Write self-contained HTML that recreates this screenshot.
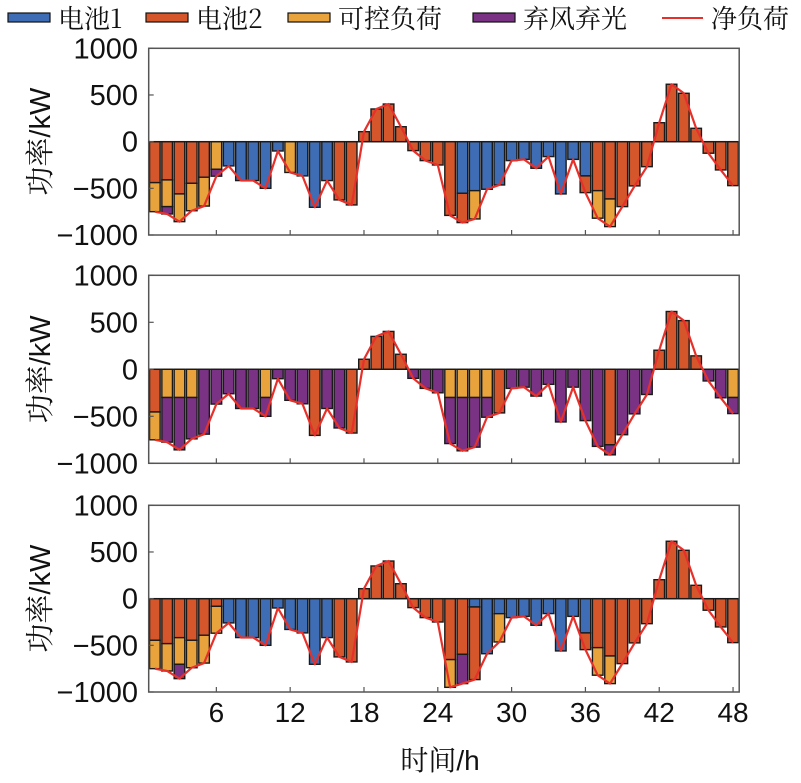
<!DOCTYPE html>
<html><head><meta charset="utf-8"><style>
body{margin:0;background:#fff;}
svg text{font-family:"Liberation Sans","Noto Serif CJK SC",sans-serif;fill:#111;}
.cn{font-family:"Noto Serif CJK SC","Noto Sans CJK SC",serif;}
</style></head><body>
<svg id="chart" width="801" height="778" viewBox="0 0 801 778" xmlns="http://www.w3.org/2000/svg">
<g>
 <rect x="8" y="13" width="42" height="9" fill="#3f6db5" stroke="#111" stroke-width="1.2"/>
 <text x="58" y="28" font-size="26" class="cn">电池1</text>
 <rect x="146" y="13" width="42" height="9" fill="#d5562a" stroke="#111" stroke-width="1.2"/>
 <text x="196" y="28" font-size="26" class="cn">电池2</text>
 <rect x="288" y="13" width="42" height="9" fill="#e8a33c" stroke="#111" stroke-width="1.2"/>
 <text x="338" y="28" font-size="26" class="cn">可控负荷</text>
 <rect x="473" y="13" width="42" height="9" fill="#7a3384" stroke="#111" stroke-width="1.2"/>
 <text x="523" y="28" font-size="26" class="cn">弃风弃光</text>
 <line x1="662" y1="18" x2="703" y2="18" stroke="#e8302a" stroke-width="2"/>
 <text x="711" y="28" font-size="26" class="cn">净负荷</text>
</g>
<g id="panels"></g>
<text x="440" y="770" font-size="28" text-anchor="middle"><tspan class="cn">时间</tspan>/h</text>
</svg>
<script>
const hours = Array.from({length:48},(_, i)=>i+1);
const yTicks = [1000,500,0,-500,-1000];
const yTickLabels = ["1000","500","0","\u2212500","\u22121000"];
const xTicks = [6,12,18,24,30,36,42,48];

const net1 = [-750,-775,-857,-740,-690,-370,-260,-417,-417,-500,-100,-330,-367,-703,-417,-624,-678,107,350,403,160,-96,-203,-250,-790,-867,-828,-510,-464,-203,-190,-285,-160,-560,-190,-546,-820,-910,-696,-474,-268,203,615,518,143,-124,-303,-471];
const p1b1 = [0,0,0,0,0,0,-260,-417,-417,-500,-100,0,-367,-703,-417,0,0,0,0,0,0,0,0,0,0,-553,-525,-510,-464,-203,-190,-285,-160,-560,-190,-367,0,0,0,0,0,0,0,0,0,0,0,0];
const p1b2 = [-439,-410,-560,-446,-381,0,0,0,0,0,0,0,0,0,0,-624,-678,107,350,403,160,-96,-203,-250,-790,-314,0,0,0,0,0,0,0,0,0,-179,-525,-614,-696,-474,-268,203,615,518,143,-124,-303,-471];
const p1cl = [-311,-286,-297,-294,-309,-296,0,0,0,0,0,-330,0,0,0,0,0,0,0,0,0,0,0,0,0,0,-303,0,0,0,0,0,0,0,0,0,-295,-296,0,0,0,0,0,0,0,0,0,0];
const p1cur = [0,-79,0,0,0,-74,0,0,0,0,0,0,0,0,0,0,0,0,0,0,0,0,0,0,0,0,0,0,0,0,0,0,0,0,0,0,0,0,0,0,0,0,0,0,0,0,0,0];

const net2 = net1.slice();
const p2b1 = new Array(48).fill(0);
const p2b2 = [-454,0,0,0,0,0,0,0,0,0,0,0,0,-703,0,0,-678,107,350,403,160,0,0,0,0,0,0,0,-464,0,0,0,0,0,0,0,0,-803,0,0,0,203,615,518,143,0,0,0];
const p2cl = [-296,-300,-300,-300,0,0,0,0,0,-300,0,0,0,0,0,0,0,0,0,0,0,0,0,0,-300,-300,-300,-300,0,0,0,0,0,0,0,0,0,0,0,0,0,0,0,0,0,0,0,-300];
const p2cur = [0,-475,-557,-440,-690,-370,-260,-417,-417,-200,-100,-330,-367,0,-417,-624,0,0,0,0,0,-96,-203,-250,-490,-567,-528,-210,0,-203,-190,-285,-160,-560,-190,-546,-820,-107,-696,-474,-268,0,0,0,0,-124,-303,-171];

const net3 = [-750,-775,-857,-740,-690,-370,-260,-417,-417,-500,-100,-330,-367,-703,-417,-624,-678,107,350,403,160,-96,-203,-250,-950,-910,-867,-590,-464,-203,-190,-285,-160,-560,-190,-546,-820,-910,-696,-474,-268,203,615,518,143,-124,-303,-471];
const p3b1 = [0,0,0,0,0,0,-260,-417,-417,-500,-100,-330,-367,-703,-417,0,0,0,0,0,0,0,0,0,0,0,-89,-590,-161,-203,-190,-285,-160,-560,-190,-367,0,0,0,0,0,0,0,0,0,0,0,0];
const p3b2 = [-446,-482,-418,-446,-392,-82,0,0,0,0,0,0,0,0,0,-624,-678,107,350,403,160,-96,-203,-250,-653,-596,-778,0,0,0,0,0,0,0,0,-179,-525,-614,-696,-474,-268,203,615,518,143,-124,-303,-471];
const p3cl = [-304,-293,-285,-294,-298,-288,0,0,0,0,0,0,0,0,0,0,0,0,0,0,0,0,0,0,-297,0,0,0,-303,0,0,0,0,0,0,0,-295,-296,0,0,0,0,0,0,0,0,0,0];
const p3cur = [0,0,-154,0,0,0,0,0,0,0,0,0,0,0,0,0,0,0,0,0,0,0,0,0,0,-314,0,0,0,0,0,0,0,0,0,0,0,0,0,0,0,0,0,0,0,0,0,0];

const NS="http://www.w3.org/2000/svg";
const colors=["#3f6db5","#d5562a","#e8a33c","#7a3384"];
const seriesNames=["battery1","battery2","controllable-load","curtailment"];
const X0=148.7, X1=739.2;
function xScale(h){return X0+(h-0.5)/48*(X1-X0);}
function mk(tag,attrs,parent){const e=document.createElementNS(NS,tag);for(const k in attrs)e.setAttribute(k,attrs[k]);parent.appendChild(e);return e;}
const root=document.getElementById('panels');
const panels=[
 {top:48.3,bot:235,series:[p1b1,p1b2,p1cl,p1cur],net:net1,xl:false},
 {top:275.3,bot:463.3,series:[p2b1,p2b2,p2cl,p2cur],net:net2,xl:false},
 {top:505.3,bot:692,series:[p3b1,p3b2,p3cl,p3cur],net:net3,xl:true}
];
panels.forEach((p,pi)=>{
 const yScale=v=>p.top+(1000-v)/2000*(p.bot-p.top);
 const g=mk('g',{},root);
 
 
 hours.forEach((h,i)=>{
  let neg=0,pos=0;
  p.series.forEach((s,si)=>{
   const v=s[i]; if(!v) return;
   let a,b;
   if(v<0){a=neg;b=neg+v;neg=b;}else{a=pos;b=pos+v;pos=b;}
   const y1=yScale(Math.max(a,b)),y2=yScale(Math.min(a,b));
   const r=mk('rect',{x:xScale(h)-5.3,y:y1,width:10.6,height:Math.max(0.5,y2-y1),fill:colors[si],stroke:'#1a1a1a','stroke-width':1.4},g);
   
   
  });
 });
 const z=mk('line',{x1:X0,x2:X1,y1:yScale(0),y2:yScale(0),stroke:'#1a1a1a','stroke-width':1.4},g);
 
 
 const pts=hours.map((h,i)=>xScale(h)+','+yScale(p.net[i])).join(' ');
 const pl=mk('polyline',{points:pts,fill:'none',stroke:'#e8302a','stroke-width':2.2,'stroke-linejoin':'round'},g);
 
 
 const fr=mk('rect',{x:X0,y:p.top,width:X1-X0,height:p.bot-p.top,fill:'none',stroke:'#555','stroke-width':1.5},g);
 
 
 yTicks.forEach((t,ti)=>{
  const y=yScale(t);
  const tk=mk('line',{x1:X0,x2:X0+5,y1:y,y2:y,stroke:'#555','stroke-width':1.2},g);
  
  
  const tx=mk('text',{x:138,y:y+10,'font-size':29,'text-anchor':'end'},g);
  tx.textContent=yTickLabels[ti];
  
  
 });
 xTicks.forEach(t=>{
  const x=xScale(t);
  const tk=mk('line',{x1:x,x2:x,y1:p.bot,y2:p.bot-5,stroke:'#555','stroke-width':1.2},g);
  
  
  if(p.xl){
   const tx=mk('text',{x:x,y:p.bot+30,'font-size':28,'text-anchor':'middle'},g);
   tx.textContent=String(t);
   
   
  }
 });
 const cy=(p.top+p.bot)/2;
 const yt=mk('text',{x:0,y:0,'font-size':29,'text-anchor':'middle',transform:'translate(50,'+cy+') rotate(-90)'},g);
 yt.innerHTML='<tspan class="cn">功率</tspan>/kW';
 
 
});
</script>
</body></html>
